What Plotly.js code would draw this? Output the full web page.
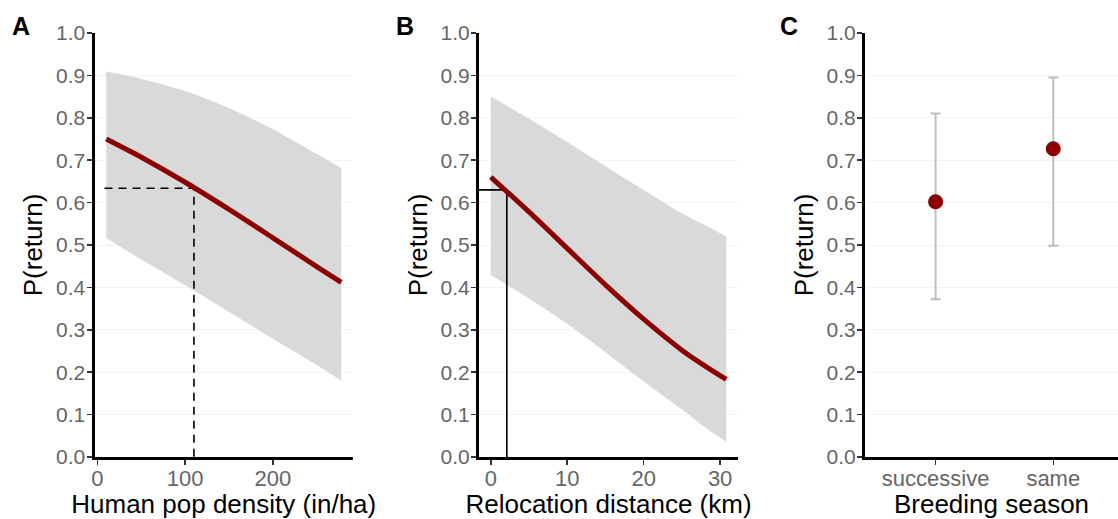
<!DOCTYPE html>
<html>
<head>
<meta charset="utf-8">
<script src="https://cdn.plot.ly/plotly-3.0.1.min.js"></script>
<style>html,body{margin:0;padding:0;background:#fff;}#chart{width:1118px;height:519px;}</style>
</head>
<body>
<div id="chart"></div>
<script>
// Panel A: human population density
const densityX = [10, 50, 100, 150, 200, 250, 278];
const densityFit = [0.750, 0.707, 0.648, 0.584, 0.517, 0.449, 0.412];
const densityUpper = [0.909, 0.892, 0.863, 0.823, 0.773, 0.715, 0.681];
const densityLower = [0.516, 0.466, 0.405, 0.342, 0.279, 0.217, 0.180];
const densityRefX = [8, 110, 110];
const densityRefY = [0.634, 0.634, 0];

// Panel B: relocation distance
const distanceX = [0, 5, 10, 15, 20, 25, 28, 30.8];
const distanceFit = [0.660, 0.578, 0.492, 0.406, 0.325, 0.252, 0.215, 0.183];
const distanceUpper = [0.850, 0.798, 0.743, 0.686, 0.630, 0.575, 0.547, 0.520];
const distanceLower = [0.429, 0.374, 0.314, 0.247, 0.178, 0.112, 0.070, 0.036];
const distanceRefX = [-1.54, 2.1, 2.1];
const distanceRefY = [0.63, 0.63, 0];

// Panel C: breeding season
const seasons = ['successive', 'same'];
const seasonP = [0.602, 0.727];
const seasonHi = [0.810, 0.895];
const seasonLo = [0.372, 0.498];

const yTickVals = [0, 0.1, 0.2, 0.3, 0.4, 0.5, 0.6, 0.7, 0.8, 0.9, 1.0];
const yTickText = ['0.0','0.1','0.2','0.3','0.4','0.5','0.6','0.7','0.8','0.9','1.0'];
const densityTicks = [0, 100, 200];
const distanceTicks = [0, 10, 20, 30];

const RED = '#8b0000';
const BAND = '#d9d9d9';
const FONT = 'Liberation Sans, Arial, sans-serif';
const SPL = {shape: 'spline', smoothing: 0.8};

const traces = [
  // A
  {x: densityX, y: densityLower, xaxis: 'x', yaxis: 'y', mode: 'lines', line: Object.assign({width: 0, color: BAND}, SPL), hoverinfo: 'skip'},
  {x: densityX, y: densityUpper, xaxis: 'x', yaxis: 'y', mode: 'lines', fill: 'tonexty', fillcolor: BAND, line: Object.assign({width: 0, color: BAND}, SPL), hoverinfo: 'skip'},
  {x: densityRefX, y: densityRefY, xaxis: 'x', yaxis: 'y', mode: 'lines', line: {color: '#000', width: 1.6, dash: '8px,6px'}},
  {x: densityX, y: densityFit, xaxis: 'x', yaxis: 'y', mode: 'lines', line: Object.assign({color: RED, width: 5}, SPL)},
  // B
  {x: distanceX, y: distanceLower, xaxis: 'x2', yaxis: 'y2', mode: 'lines', line: Object.assign({width: 0, color: BAND}, SPL), hoverinfo: 'skip'},
  {x: distanceX, y: distanceUpper, xaxis: 'x2', yaxis: 'y2', mode: 'lines', fill: 'tonexty', fillcolor: BAND, line: Object.assign({width: 0, color: BAND}, SPL), hoverinfo: 'skip'},
  {x: distanceRefX, y: distanceRefY, xaxis: 'x2', yaxis: 'y2', mode: 'lines', line: {color: '#000', width: 1.6}},
  {x: distanceX, y: distanceFit, xaxis: 'x2', yaxis: 'y2', mode: 'lines', line: Object.assign({color: RED, width: 5}, SPL)},
  // C
  {x: seasons, y: seasonP, xaxis: 'x3', yaxis: 'y3', mode: 'markers',
   marker: {color: RED, size: 15},
   error_y: {type: 'data', symmetric: false,
     array: seasonHi.map((h, i) => h - seasonP[i]),
     arrayminus: seasonLo.map((l, i) => seasonP[i] - l),
     color: '#bdbdbd', thickness: 2, width: 5}}
];

const W = 1118, H = 519;
const yDom = [(H - 457) / H, (H - 33) / H];

function yAxis(anchor) {
  return {
    domain: yDom, anchor: anchor, range: [0, 1],
    tickvals: yTickVals, ticktext: yTickText,
    showline: true, linecolor: '#000', linewidth: 3,
    ticks: 'outside', ticklen: 5, tickwidth: 1.5, tickcolor: '#333',
    tickfont: {family: FONT, size: 21, color: '#666'},
    showgrid: true, gridcolor: '#f3f3f3', gridwidth: 1, zeroline: false,
    ticklabelstandoff: -3,
    title: {text: 'P(return)', font: {family: FONT, size: 26, color: '#000'}, standoff: 6},
    fixedrange: true
  };
}
function xAxis(anchor, dom, range, title, ticks) {
  const ax = {
    domain: dom, anchor: anchor, range: range,
    showline: true, linecolor: '#000', linewidth: 3,
    ticks: 'outside', ticklen: 5, tickwidth: 1.5, tickcolor: '#333',
    tickfont: {family: FONT, size: 22, color: '#666'},
    showgrid: false, zeroline: false,
    ticklabelstandoff: -5,
    title: {text: title, font: {family: FONT, size: 26, color: '#000'}, standoff: 3},
    fixedrange: true
  };
  if (ticks) ax.tickvals = ticks;
  return ax;
}

const layout = {
  width: W, height: H,
  margin: {l: 0, r: 0, t: 0, b: 0},
  paper_bgcolor: '#fff', plot_bgcolor: '#fff',
  showlegend: false,
  font: {family: FONT},
  xaxis: xAxis('y', [94.5 / W, 353 / W], [-3.4, 291.4], 'Human pop density (in/ha)', densityTicks),
  yaxis: yAxis('x'),
  xaxis2: xAxis('y2', [479 / W, 738 / W], [-1.54, 32.34], 'Relocation distance (km)', distanceTicks),
  yaxis2: yAxis('x2'),
  xaxis3: Object.assign(xAxis('y3', [865 / W, 1], [-0.6, 1.55], 'Breeding season', null), {type: 'category'}),
  yaxis3: yAxis('x3'),
  annotations: [
    {text: '<b>A</b>', x: 10 / W, y: 1 - 10 / H, xref: 'paper', yref: 'paper', xanchor: 'left', yanchor: 'top', showarrow: false, font: {family: FONT, size: 25, color: '#000'}},
    {text: '<b>B</b>', x: 394 / W, y: 1 - 10 / H, xref: 'paper', yref: 'paper', xanchor: 'left', yanchor: 'top', showarrow: false, font: {family: FONT, size: 25, color: '#000'}},
    {text: '<b>C</b>', x: 778 / W, y: 1 - 10 / H, xref: 'paper', yref: 'paper', xanchor: 'left', yanchor: 'top', showarrow: false, font: {family: FONT, size: 25, color: '#000'}}
  ]
};

Plotly.newPlot('chart', traces, layout, {displayModeBar: false, staticPlot: true});
</script>
</body>
</html>
